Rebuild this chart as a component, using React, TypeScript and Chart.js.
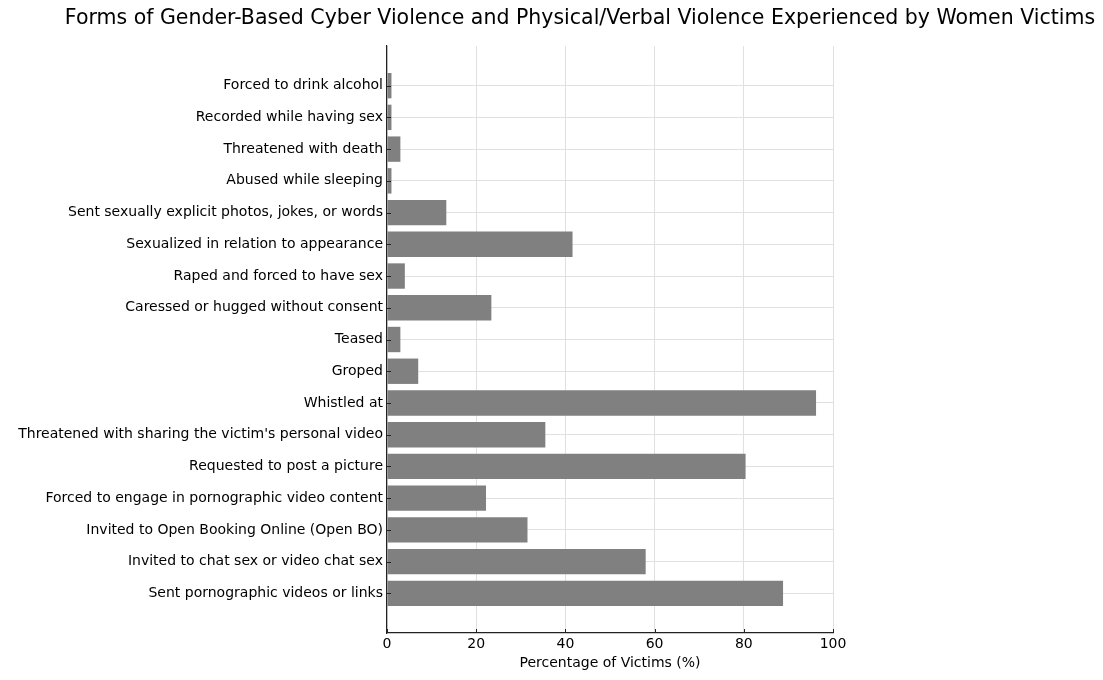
import React, { useEffect, useRef } from "react";
import { Chart, registerables } from "chart.js";

Chart.register(...registerables);

const categories: string[] = [
  "Forced to drink alcohol",
  "Recorded while having sex",
  "Threatened with death",
  "Abused while sleeping",
  "Sent sexually explicit photos, jokes, or words",
  "Sexualized in relation to appearance",
  "Raped and forced to have sex",
  "Caressed or hugged without consent",
  "Teased",
  "Groped",
  "Whistled at",
  "Threatened with sharing the victim's personal video",
  "Requested to post a picture",
  "Forced to engage in pornographic video content",
  "Invited to Open Booking Online (Open BO)",
  "Invited to chat sex or video chat sex",
  "Sent pornographic videos or links",
];

const percentages: number[] = [
  1, 1, 3, 1, 13.3, 41.6, 4, 23.4, 3, 7, 96.2, 35.5, 80.4, 22.2, 31.5, 58, 88.8,
];

const xTicks: number[] = [0, 20, 40, 60, 80, 100];

const titleText =
  "Forms of Gender-Based Cyber Violence and Physical/Verbal Violence Experienced by Women Victims";
const xAxisTitle = "Percentage of Victims (%)";

const FONT = "'DejaVu Sans', sans-serif";

export default function App() {
  const canvasRef = useRef<HTMLCanvasElement | null>(null);

  useEffect(() => {
    const canvas = canvasRef.current;
    if (!canvas) return;

    const titlePlugin = {
      id: "customTitle",
      afterDraw(chart: any) {
        const ctx = chart.ctx;
        ctx.save();
        ctx.font = `20.5px ${FONT}`;
        ctx.fillStyle = "#000";
        ctx.textAlign = "center";
        ctx.textBaseline = "middle";
        ctx.fillText(titleText, 580, 19, 1035);
        ctx.restore();
      },
    };

    const innerTicksPlugin = {
      id: "innerTicks",
      afterDatasetsDraw(chart: any) {
        const ctx = chart.ctx;
        const { left, bottom } = chart.chartArea;
        const xs = chart.scales.x;
        const ys = chart.scales.y;
        ctx.save();
        ctx.strokeStyle = "#222";
        ctx.lineWidth = 1;
        ctx.beginPath();
        ys.ticks.forEach((t: any) => {
          const y = Math.round(ys.getPixelForValue(t.value)) + 0.5;
          ctx.moveTo(left, y);
          ctx.lineTo(left + 4, y);
        });
        xs.ticks.forEach((t: any) => {
          const x = Math.round(xs.getPixelForValue(t.value)) + 0.5;
          ctx.moveTo(x, bottom);
          ctx.lineTo(x, bottom - 4);
        });
        ctx.stroke();
        ctx.restore();
      },
    };

    const chart = new Chart(canvas, {
      type: "bar",
      data: {
        datasets: [
          {
            data: percentages.map((v, i) => ({ x: v, y: i })),
            backgroundColor: "#808080",
            borderWidth: 0,
            barPercentage: 0.8,
            categoryPercentage: 1,
          },
        ],
      },
      options: {
        indexAxis: "y",
        animation: false,
        responsive: false,
        maintainAspectRatio: false,
        layout: { padding: { top: 46, right: 270, bottom: 8, left: 0 } },
        plugins: {
          legend: { display: false },
          title: { display: false },
          tooltip: { enabled: false },
        },
        scales: {
          x: {
            type: "linear",
            min: 0,
            max: 100,
            offset: false,
            afterBuildTicks: (scale: any) => {
              scale.ticks = xTicks.map((v) => ({ value: v }));
            },
            afterFit: (scale: any) => {
              scale.height = 39;
            },
            grid: {
              color: "#e0e0e0",
              lineWidth: 1,
              offset: false,
              drawTicks: false,
            },
            border: { display: true, color: "#222", width: 1.2 },
            ticks: {
              color: "#000",
              font: { family: FONT, size: 14 },
              padding: 3,
              maxRotation: 0,
            },
            title: {
              display: true,
              text: xAxisTitle,
              color: "#000",
              font: { family: FONT, size: 14 },
              padding: { top: 0, bottom: 0 },
            },
          },
          y: {
            type: "linear",
            reverse: true,
            offset: false,
            min: -1.25,
            max: 17.25,
            afterBuildTicks: (scale: any) => {
              scale.ticks = categories.map((_, i) => ({ value: i }));
            },
            afterFit: (scale: any) => {
              scale.width = 387;
            },
            grid: {
              color: "#e0e0e0",
              lineWidth: 1,
              offset: false,
              drawTicks: false,
            },
            border: { display: true, color: "#222", width: 1.2 },
            ticks: {
              color: "#000",
              font: { family: FONT, size: 14 },
              padding: 4,
              autoSkip: false,
              callback: (value: any) => categories[Math.round(Number(value))] ?? "",
            },
          },
        },
      },
      plugins: [titlePlugin, innerTicksPlugin],
    } as any);

    return () => chart.destroy();
  }, []);

  return (
    <div style={{ position: "fixed", left: 0, top: 0, width: 1103, height: 680, background: "#fff" }}>
      <canvas ref={canvasRef} width={1103} height={680} style={{ width: 1103, height: 680 }} />
    </div>
  );
}
